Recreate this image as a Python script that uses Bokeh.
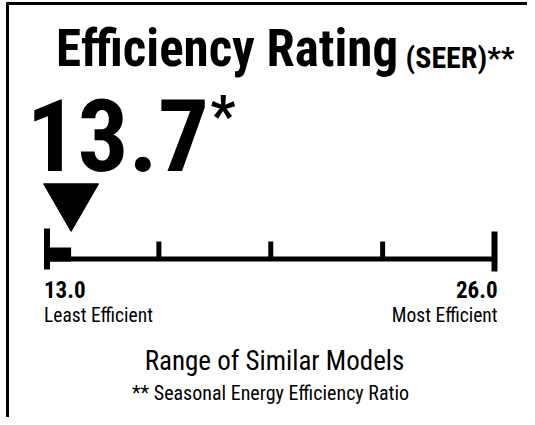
from bokeh.plotting import figure
from bokeh.models import Range1d
from bokeh.core.properties import value
from bokeh.embed import file_html
from bokeh.resources import INLINE
import numpy as np

# ---- data ----
title_text = "Efficiency Rating"
title_unit = "(SEER)**"
rating = 13.7
rating_note = "*"
scale_min = 13.0
scale_max = 26.0
n_divisions = 4
min_label = "Least Efficient"
max_label = "Most Efficient"
range_caption = "Range of Similar Models"
footnote = "** Seasonal Energy Efficiency Ratio"

FONT = "Roboto Condensed"
W, H = 527, 417
BASE = 0.36  # baseline correction (fraction of font size)

p = figure(width=W, height=H, x_range=Range1d(0, W), y_range=Range1d(H, 0),
           output_backend="svg", toolbar_location=None, min_border=0)
p.axis.visible = False
p.grid.visible = False
p.outline_line_color = None
p.background_fill_color = "white"
p.border_fill_color = "white"

# scale placement (pixels in figure)
left_px, right_px = 46.5, 494.0
ppu = (right_px - left_px) / (scale_max - scale_min)
p.extra_x_ranges = {"seer": Range1d(scale_min - left_px / ppu,
                                    scale_max + (W - right_px) / ppu)}

# frame border (left and top)
p.segment(x0=[7, 6], y0=[2, 3], x1=[7, W], y1=[H, 3], line_color="black", line_width=3)

def txt(x, y, t, size, bold=False, align="left", rng="default"):
    p.text(x=[x], y=[y - BASE * size], text=[t], text_font=value(FONT),
           text_font_size=value(f"{size}px"),
           text_font_style="bold" if bold else "normal",
           text_align=align, text_baseline="alphabetic", text_color="black",
           x_range_name=rng)

txt(55.5, 66.7, title_text, 51, bold=True)
txt(405, 67.5, title_unit, 30, bold=True)
txt(26, 171, f"{rating:.1f}", 101, bold=True)
txt(210, 135, rating_note, 55, bold=True)

# scale
ticks = np.linspace(scale_min, scale_max, n_divisions + 1)
p.segment(x0=[scale_min], y0=[258.5], x1=[scale_max], y1=[258.5],
          line_color="black", line_width=5, x_range_name="seer")
p.quad(left=[scale_min], right=[rating], top=[247], bottom=[261],
       fill_color="black", line_color=None, x_range_name="seer")
mid = ticks[1:-1]
p.segment(x0=mid, y0=[241] * len(mid), x1=mid, y1=[258] * len(mid),
          line_color="black", line_width=5, x_range_name="seer")
ends = [ticks[0], ticks[-1]]
p.segment(x0=ends, y0=[228, 231], x1=ends, y1=[269, 271],
          line_color="black", line_width=6, x_range_name="seer")

# marker
p.scatter(x=[rating], y=[199.2], marker="inverted_triangle", size=55,
          fill_color="black", line_color="black", x_range_name="seer")

# end labels
p.text(x=[scale_min, scale_max], y=[297.7 - BASE * 23] * 2,
       text=[f"{scale_min:.1f}", f"{scale_max:.1f}"],
       text_align=["left", "right"], x_offset=[-3, 3],
       text_font=value(FONT), text_font_size=value("23px"), text_font_style="bold",
       text_baseline="alphabetic", text_color="black", x_range_name="seer")
p.text(x=[scale_min, scale_max], y=[321.7 - BASE * 19.5] * 2, text=[min_label, max_label],
       text_align=["left", "right"], x_offset=[-3, 3],
       text_font=value(FONT), text_font_size=value("19.5px"),
       text_baseline="alphabetic", text_color="black", x_range_name="seer")

txt(274, 370, range_caption, 27, align="center")
txt(270, 400, footnote, 20, align="center")

open("out.html", "w").write(file_html(p, INLINE))
